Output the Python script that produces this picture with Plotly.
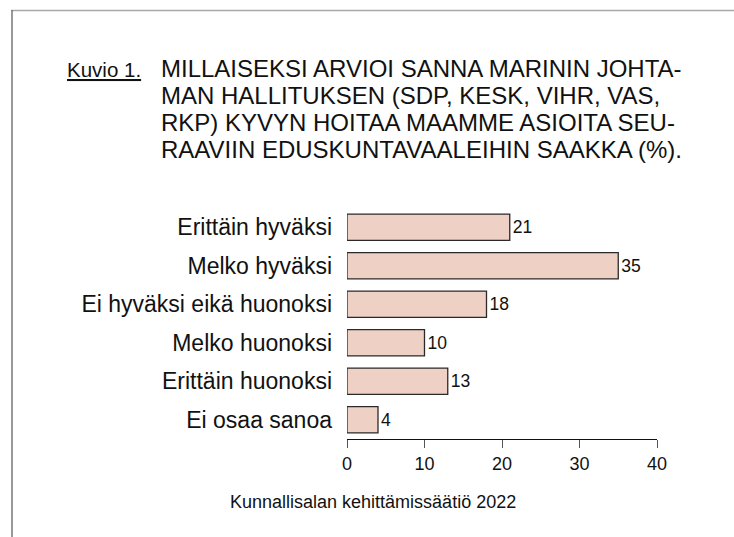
import plotly.graph_objects as go

categories = ["Erittäin hyväksi", "Melko hyväksi", "Ei hyväksi eikä huonoksi",
              "Melko huonoksi", "Erittäin huonoksi", "Ei osaa sanoa"]
values = [21, 35, 18, 10, 13, 4]
x_ticks = [0, 10, 20, 30, 40]
figure_label = "Kuvio 1."
title_lines = ["MILLAISEKSI ARVIOI SANNA MARININ JOHTA-",
               "MAN HALLITUKSEN (SDP, KESK, VIHR, VAS,",
               "RKP) KYVYN HOITAA MAAMME ASIOITA SEU-",
               "RAAVIIN EDUSKUNTAVAALEIHIN SAAKKA (%)."]
source_text = "Kunnallisalan kehittämissäätiö 2022"

W, H = 734, 537
L, R, T, B = 347, 77, 208, 98
PW, PH = W - L - R, H - T - B
FONT = "Liberation Sans, Arial, Helvetica, sans-serif"


def px(x):
    return (x - L) / PW


def py(y):
    return (H - B - y) / PH


fig = go.Figure(go.Bar(
    x=values, y=categories, orientation="h",
    marker=dict(color="#EFD0C5", line=dict(color="#2a2a2a", width=1.3)),
    text=[str(v) for v in values], textposition="outside",
    textfont=dict(size=17.5, color="#111", family=FONT),
    cliponaxis=False, hoverinfo="skip",
))

TITLE_TOP = 68.5
TITLE_STEP = 27
annotations = [dict(
    text=figure_label, x=px(66), y=py(TITLE_TOP + 1.3), xref="paper", yref="paper",
    xanchor="left", yanchor="middle", showarrow=False, borderpad=0,
    font=dict(size=20.5, color="#111", family=FONT, lineposition="under"),
)]
for i, line in enumerate(title_lines):
    annotations.append(dict(
        text=line, x=px(160), y=py(TITLE_TOP + TITLE_STEP * i), xref="paper", yref="paper",
        xanchor="left", yanchor="middle", showarrow=False, borderpad=0,
        font=dict(size=24, color="#111", family=FONT),
    ))
annotations.append(dict(
    text=source_text, x=px(373), y=py(502), xref="paper", yref="paper",
    xanchor="center", yanchor="middle", showarrow=False,
    font=dict(size=18, color="#111", family=FONT),
))

shapes = [
    dict(type="line", xref="paper", yref="paper", x0=px(11), x1=px(734),
         y0=py(10.5), y1=py(10.5), line=dict(color="#a8a8a8", width=1.5)),
    dict(type="line", xref="paper", yref="paper", x0=px(12), x1=px(12),
         y0=py(10), y1=py(537), line=dict(color="#777777", width=1.5)),
]

fig.update_layout(
    width=W, height=H, margin=dict(l=L, r=R, t=T, b=B, autoexpand=False),
    paper_bgcolor="white", plot_bgcolor="white",
    bargap=0.314, showlegend=False,
    font=dict(family=FONT, color="#111"),
    annotations=annotations, shapes=shapes,
    xaxis=dict(range=[0, 40], tickvals=x_ticks, ticktext=[str(v) for v in x_ticks],
               showgrid=False, zeroline=False, showline=True, linecolor="#111",
               linewidth=1, ticks="outside", ticklen=8, tickcolor="#555",
               tickwidth=1, tickfont=dict(size=18, color="#111"),
               ticklabelstandoff=0, fixedrange=True),
    yaxis=dict(categoryorder="array", categoryarray=categories,
               autorange="reversed", showgrid=False, zeroline=False,
               showline=False, ticks="", tickfont=dict(size=23, color="#111"),
               ticklabelstandoff=14, fixedrange=True),
)

fig.write_html("out.html", config={"displayModeBar": False},
               post_script="document.body.style.margin='0';"
                           "document.body.style.overflow='hidden';")
